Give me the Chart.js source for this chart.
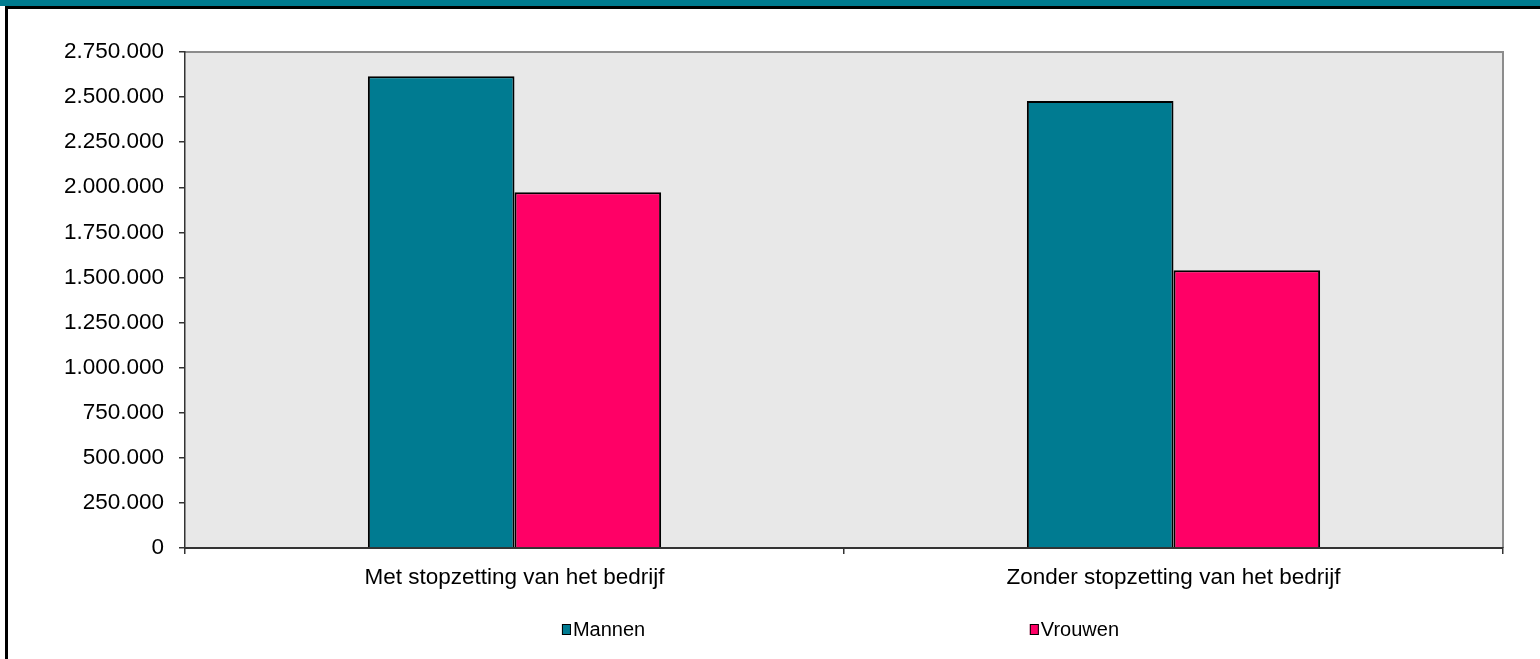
<!DOCTYPE html>
<html>
<head>
<meta charset="utf-8">
<script src="https://cdn.jsdelivr.net/npm/chart.js@4"></script>
<style>
  html, body { margin: 0; padding: 0; background: #fff; overflow: hidden; }
  body { width: 1540px; height: 659px; position: relative; }
  #header { position: absolute; left: 0; top: 0; width: 1540px; height: 6px; background: #007B8F; }
  #frame { position: absolute; left: 5px; top: 6px; width: 1540px; height: 660px; border-top: 3px solid #000; border-left: 3px solid #000; box-sizing: border-box; }
  #wrap { position: absolute; left: 8px; top: 9px; width: 1532px; height: 650px; }
</style>
</head>
<body>
<div id="header"></div>
<div id="frame"></div>
<div id="wrap"><canvas id="c"></canvas></div>
<script>
const categories = ["Met stopzetting van het bedrijf", "Zonder stopzetting van het bedrijf"];
const seriesNames = ["Mannen", "Vrouwen"];
const mannen = [2615000, 2478000];
const vrouwen = [1973000, 1540000];
const colors = ["#007B91", "#FF0066"];
const yMin = 0, yMax = 2750000, yStep = 250000;

const fmt = v => String(v).replace(/\B(?=(\d{3})+(?!\d))/g, ".");
const FONT = "'Liberation Sans', Arial, sans-serif";

const plotBg = {
  id: 'plotBg',
  beforeDraw(chart) {
    const {ctx, chartArea: a} = chart;
    ctx.save();
    ctx.fillStyle = '#E8E8E8';
    ctx.fillRect(a.left, a.top, a.right - a.left, a.bottom - a.top);
    ctx.strokeStyle = '#8C8C8C';
    ctx.lineWidth = 2;
    ctx.beginPath();
    ctx.moveTo(a.left, a.top);
    ctx.lineTo(a.right, a.top);
    ctx.lineTo(a.right, a.bottom);
    ctx.stroke();
    ctx.restore();
  }
};

const legendPlugin = {
  id: 'customLegend',
  afterDraw(chart) {
    const {ctx, chartArea: a} = chart;
    const fr = [0.286, 0.641];
    const y = 620;
    ctx.save();
    ctx.font = "20px " + FONT;
    ctx.textBaseline = 'middle';
    chart.data.datasets.forEach((ds, i) => {
      const x = a.left + (a.right - a.left) * fr[i];
      ctx.fillStyle = ds.backgroundColor;
      ctx.fillRect(x, y - 5, 9, 11);
      ctx.strokeStyle = '#000';
      ctx.lineWidth = 1;
      ctx.strokeRect(x + 0.5, y - 4.5, 8, 10);
      ctx.fillStyle = '#000';
      ctx.fillText(ds.label, x + 11, y + 1);
    });
    ctx.restore();
  }
};

new Chart(document.getElementById('c'), {
  type: 'bar',
  data: {
    labels: categories,
    datasets: [
      { label: seriesNames[0], data: mannen, backgroundColor: colors[0], borderColor: '#000', borderWidth: 2 },
      { label: seriesNames[1], data: vrouwen, backgroundColor: colors[1], borderColor: '#000', borderWidth: 2 }
    ]
  },
  options: {
    responsive: true,
    maintainAspectRatio: false,
    animation: false,
    devicePixelRatio: 1,
    layout: { padding: { left: 0, right: 37, top: 43, bottom: 0 } },
    datasets: { bar: { categoryPercentage: 0.445, barPercentage: 1 } },
    plugins: { legend: { display: false }, tooltip: { enabled: false } },
    scales: {
      x: {
        grid: { display: true, drawOnChartArea: false, offset: true, tickLength: 6, color: '#333', lineWidth: 1.5 },
        border: { display: true, color: '#333', width: 2 },
        ticks: { font: { family: FONT, size: 22.5 }, color: '#000', padding: 10, maxRotation: 0 },
        afterFit(s) { s.height = 111; }
      },
      y: {
        min: yMin, max: yMax,
        grid: { display: true, drawOnChartArea: false, tickLength: 6, color: '#333', lineWidth: 1.5 },
        border: { display: true, color: '#333', width: 1.5 },
        ticks: { stepSize: yStep, font: { family: FONT, size: 22.5 }, color: '#000', padding: 15, callback: v => fmt(v) },
        afterFit(s) { s.width = 177; }
      }
    }
  },
  plugins: [plotBg, legendPlugin]
});
</script>
</body>
</html>
